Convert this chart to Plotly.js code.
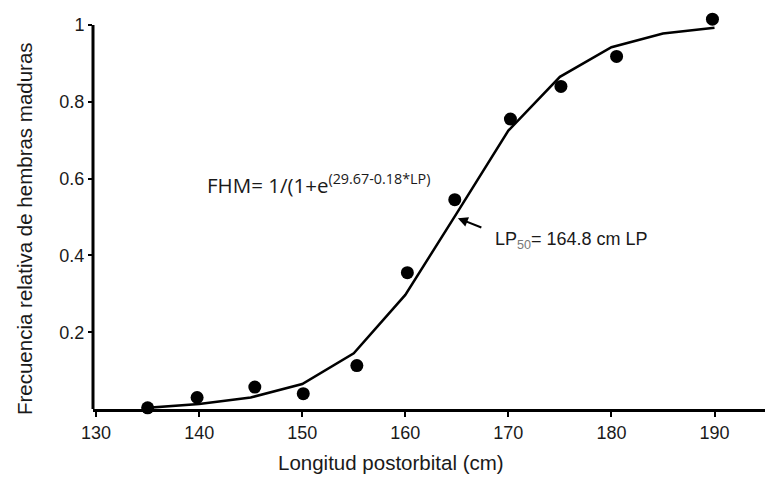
<!DOCTYPE html>
<html>
<head>
<meta charset="utf-8">
<script src="https://cdn.plot.ly/plotly-3.0.1.min.js"></script>
<style>
  html, body { margin: 0; padding: 0; background: #fff; }
  #chart { width: 784px; height: 479px; }
</style>
</head>
<body>
<div id="chart"></div>
<script>
// observed relative frequency of mature females, by postorbital length (cm)
const OBS_LP = [135, 139.8, 145.4, 150.1, 155.3, 160.2, 164.8, 170.2, 175.1, 180.5, 189.8];
const OBS_FREQ = [0.003, 0.03, 0.057, 0.04, 0.113, 0.355, 0.545, 0.755, 0.84, 0.918, 1.015];

// fitted logistic curve
const FIT_LP = [135, 140, 145, 150, 155, 160, 165, 170, 175, 180, 185, 190];
const FIT_FREQ = [0.003, 0.013, 0.03, 0.065, 0.145, 0.297, 0.51, 0.725, 0.865, 0.942, 0.978, 0.993];

const X_TICKS = [130, 140, 150, 160, 170, 180, 190];
const Y_TICKS = [0.2, 0.4, 0.6, 0.8, 1];
const Y_TICK_TEXT = ["0.2", "0.4", "0.6", "0.8", "1"];

const LP50 = 165.1;
const LP50_FREQ = 0.497;

const FONT = "Liberation Sans, Arial, sans-serif";
const INK = "#1a1a1a";

function draw() {
  const fit = {
    x: FIT_LP,
    y: FIT_FREQ,
    type: "scatter",
    mode: "lines",
    line: { color: "#000", width: 2.5 },
    hoverinfo: "skip"
  };

  const obs = {
    x: OBS_LP,
    y: OBS_FREQ,
    type: "scatter",
    mode: "markers",
    marker: { color: "#000", size: 13 },
    cliponaxis: false
  };

  const layout = {
    width: 784,
    height: 479,
    // y range runs a little above 1 so the last dot shows; the axis line stops at 1
    margin: { l: 93, r: 19, t: 15, b: 70 },
    paper_bgcolor: "#fff",
    plot_bgcolor: "#fff",
    showlegend: false,
    font: { family: FONT, size: 18, color: INK },
    xaxis: {
      range: [129.7, 194.9],
      tickvals: X_TICKS,
      ticks: "outside",
      ticklen: 5,
      tickwidth: 2,
      tickcolor: "#000",
      showline: true,
      linecolor: "#000",
      linewidth: 3,
      showgrid: false,
      zeroline: false,
      tickfont: { size: 18, color: INK }
    },
    yaxis: {
      range: [0, 1.026],
      tickvals: Y_TICKS,
      ticktext: Y_TICK_TEXT,
      ticks: "outside",
      ticklen: 4,
      tickwidth: 2,
      tickcolor: "#000",
      showline: false,
      showgrid: false,
      zeroline: false,
      tickfont: { size: 18, color: INK }
    },
    shapes: [
      {
        type: "line",
        xref: "paper", x0: 0, x1: 0,
        yref: "y", y0: 0, y1: 1,
        line: { color: "#000", width: 3 }
      }
    ],
    annotations: [
      // axis titles, placed where the original has them (a bit off-centre)
      {
        x: 0.4435, xref: "paper",
        y: -0.137, yref: "paper",
        xanchor: "center", yanchor: "middle",
        text: "Longitud postorbital (cm)",
        showarrow: false,
        font: { family: FONT, size: 20.5, color: INK }
      },
      {
        x: -0.101, xref: "paper",
        y: 0.469, yref: "y",
        xanchor: "center", yanchor: "middle",
        textangle: -90,
        text: "Frecuencia relativa de hembras maduras",
        showarrow: false,
        font: { family: FONT, size: 20.5, color: INK }
      },
      {
        x: 0.167, xref: "paper",
        y: 0.585, yref: "y",
        xanchor: "left", yanchor: "middle",
        text: "FHM= 1/(1+e<sup>(29.67-0.18*LP)</sup>",
        showarrow: false,
        font: { family: "Open Sans, sans-serif", size: 20.5, color: INK }
      },
      {
        x: LP50, y: LP50_FREQ,
        ax: 25, ay: 10,
        text: "",
        showarrow: true,
        arrowhead: 2,
        arrowsize: 1,
        arrowwidth: 2,
        arrowcolor: "#000"
      },
      {
        x: 0.595, xref: "paper",
        y: 0.44, yref: "y",
        xanchor: "left", yanchor: "middle",
        text: "LP<sub><span style='color:#777'>50</span></sub>= 164.8 cm LP",
        showarrow: false,
        font: { family: FONT, size: 18, color: INK }
      }
    ]
  };

  Plotly.newPlot("chart", [fit, obs], layout, { staticPlot: true });
}

window.addEventListener("load", draw);
</script>
</body>
</html>
